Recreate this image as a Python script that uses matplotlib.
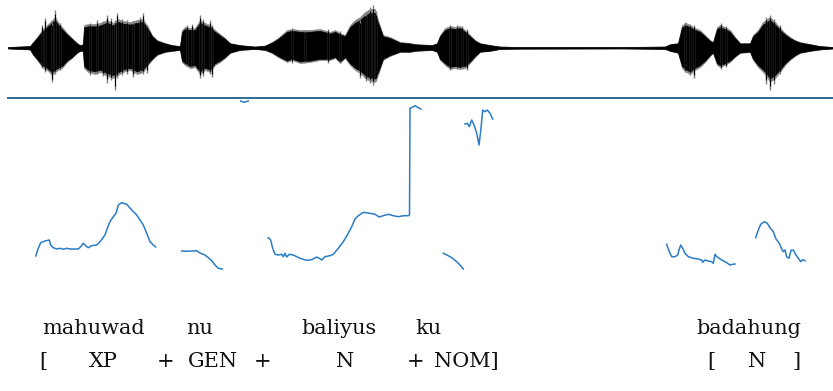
import matplotlib
matplotlib.use("Agg")
import matplotlib.pyplot as plt
import numpy as np

# ---------------- waveform envelope (time in centiseconds, amplitude arbitrary) -------------
wave_t = [8, 30, 33, 37, 42, 45, 47, 50, 52, 55, 58, 62, 67, 72, 77, 80, 83, 84, 88, 95, 100, 107, 113,
          118, 123, 130, 137, 143, 148, 152, 157, 165, 172, 180, 182, 185, 190, 195, 200, 205, 210,
          215, 220, 225, 230, 240, 255, 265, 272, 278, 287, 292, 300, 310, 320, 330, 335, 340, 345,
          350, 355, 360, 365, 370, 375, 378, 383, 390, 400, 410, 415, 432, 437, 440, 445, 450, 455,
          460, 465, 470, 475, 480, 490, 500, 520, 623, 665, 670, 678, 682, 686, 690, 695, 700, 705,
          710, 713, 717, 720, 725, 730, 735, 740, 750, 753, 758, 763, 767, 770, 775, 780, 785, 790,
          795, 800, 810, 820, 833]
wave_top = [0.7, 1.7, 5.7, 10.7, 17.7, 20.7, 22.7, 25.7, 27.7, 30.7, 25.7, 20.7, 14.7, 9.7, 4.7, 2.7,
            3.7, 22.7, 23.7, 23.7, 24.7, 27.7, 24.7, 28.7, 26.7, 25.7, 27.7, 28.7, 20.7, 12.7, 7.7,
            4.7, 2.7, 1.7, 17.7, 20.7, 19.7, 19.7, 27.7, 24.7, 22.7, 17.7, 13.7, 9.7, 4.7, 2.7, 1.2,
            2.2, 5.7, 9.7, 17.7, 18.7, 17.7, 17.7, 18.7, 15.7, 17.7, 14.7, 12.7, 22.7, 27.7, 30.7,
            35.7, 38.7, 38.7, 27.7, 12.7, 10.7, 5.7, 4.7, 3.7, 2.7, 4.7, 12.7, 19.7, 21.7, 20.7, 21.7,
            17.7, 12.7, 7.7, 4.7, 2.7, 1.2, 0.7, 0.7, 1.2, 3.7, 4.7, 22.7, 24.7, 22.7, 19.7, 17.7,
            12.7, 7.7, 5.7, 20.7, 22.7, 20.7, 17.7, 10.7, 4.7, 4.7, 12.7, 17.7, 25.7, 28.7, 30.7,
            25.7, 19.7, 14.7, 10.7, 7.7, 5.7, 3.7, 1.7, 0.7]
wave_bot = [0.8, 1.8, 7.3, 12.3, 19.3, 21.3, 22.3, 25.3, 27.3, 24.3, 22.3, 20.3, 14.3, 10.3, 5.3, 3.3,
            3.3, 20.3, 24.3, 26.3, 24.3, 28.3, 30.3, 27.3, 24.3, 22.3, 26.3, 24.3, 17.3, 12.3, 7.3,
            4.3, 3.3, 2.3, 14.3, 17.3, 20.3, 19.3, 26.3, 22.3, 24.3, 17.3, 14.3, 10.3, 5.3, 2.3, 1.3,
            2.3, 5.3, 9.3, 14.3, 12.3, 15.3, 14.3, 12.3, 12.3, 10.3, 15.3, 10.3, 17.3, 22.3, 25.3,
            30.3, 33.3, 34.3, 27.3, 12.3, 8.3, 4.3, 4.3, 3.3, 2.3, 4.3, 12.3, 17.3, 21.3, 20.3, 21.3,
            20.3, 15.3, 9.3, 4.3, 3.3, 1.3, 1.0, 0.8, 1.3, 3.3, 5.3, 20.3, 24.3, 26.3, 22.3, 19.3,
            14.3, 8.3, 5.3, 17.3, 19.3, 17.3, 14.3, 9.3, 5.3, 4.3, 12.3, 19.3, 24.3, 29.3, 34.3,
            30.3, 24.3, 17.3, 12.3, 8.3, 5.3, 3.3, 1.8, 0.8]

# prominent individual peaks of the waveform (time, upper extent, lower extent)
spike_t = [42, 45, 52, 55, 60, 90, 97, 103, 107, 111, 115, 117, 122, 127, 133, 140, 143, 147, 187,
           192, 200, 203, 210, 212, 292, 305, 328, 340, 360, 366, 370, 373, 376, 450, 457, 462, 467,
           685, 690, 694, 721, 726, 766, 770, 774, 780]
spike_top = [22.7, 29.7, 24.7, 37.7, 24.7, 24.7, 27.7, 26.7, 32.7, 29.7, 27.7, 34.7, 28.7, 27.7,
             26.7, 30.7, 34.7, 22.7, 22.7, 23.7, 32.7, 28.7, 27.7, 22.7, 19.7, 17.7, 18.7, 16.7,
             27.7, 34.7, 40.7, 42.7, 36.7, 22.7, 22.7, 21.7, 18.7, 25.7, 23.7, 22.7, 24.7, 21.7,
             30.7, 32.7, 28.7, 22.7]
spike_bot = [20.3, 24.3, 34.3, 26.3, 22.3, 27.3, 26.3, 28.3, 35.3, 32.3, 42.3, 30.3, 27.3, 26.3,
             29.3, 25.3, 26.3, 25.3, 18.3, 20.3, 30.3, 28.3, 26.3, 29.3, 15.3, 15.3, 15.3, 14.3,
             30.3, 33.3, 35.3, 37.3, 33.3, 22.3, 21.3, 20.3, 22.3, 24.3, 27.3, 30.3, 21.3, 19.3,
             36.3, 42.3, 36.3, 26.3]

# ---------------- pitch track segments (time in centiseconds, pitch arbitrary units) ----------
pitch_segments = [
    ([35.7, 38.3, 40.7, 45, 49.3, 50.7, 53.3, 56.7, 60, 63.3, 66.7, 70, 73.3, 78.3, 80.7, 83.3, 86,
      88.3, 91.7, 96.7, 100, 105, 107.3, 110, 113.3, 116, 118.3, 121.7, 126.7, 131.7, 136.7, 140,
      143.3, 146.7, 150, 153.3, 155.7],
     [44, 51.7, 57.3, 59, 60, 55, 52.3, 51, 51.7, 50.7, 51.7, 51, 51, 51, 53.3, 56.7, 54, 52.3, 54.3,
      55, 58.3, 65, 71.7, 78.3, 83.3, 86.7, 95, 97.3, 95.7, 90, 85, 80, 75, 66.7, 58.3, 55, 53]),
    ([181.7, 186.7, 191.7, 196.7, 200, 205, 208.3, 211.7, 215, 218.3, 222.3],
     [49, 48.7, 49, 49.3, 47, 45, 42.3, 39.3, 35, 31.7, 31]),
    ([240.7, 244, 248.3],
     [199, 197.7, 199]),
    ([268.3, 270.7, 272.7, 275, 278.3, 281.7, 283.3, 285, 286.7, 289.3, 293.3, 300, 306.7, 311.7,
      316.7, 319.3, 321.7, 325, 330, 333.3, 338.3, 343.3, 348.3, 351.7, 355, 358.3, 363.3, 370, 375,
      379.3, 383.3, 388.3, 393.3, 398.3, 403.3, 408.3, 409.5, 410, 411.7, 415, 418.3, 421],
     [62.3, 60, 51.7, 45.7, 45, 45.7, 43.3, 46.7, 43, 45.7, 45, 41.7, 39.7, 40.3, 43, 41.7, 40, 43.3,
      44.3, 45.7, 51.7, 58.3, 66.7, 73.3, 81, 84.3, 87.7, 86.7, 85.7, 83, 84.3, 85.7, 84.3, 83.3,
      84.3, 84.3, 85, 191.7, 192.3, 194.3, 192.3, 191]),
    ([443.3, 448.3, 451.7, 456.7, 460, 463.3],
     [46.7, 44.3, 42.3, 38.3, 35, 31]),
    ([465, 467.3, 469.3, 471.7, 474, 476.7, 479, 481, 482.7, 485, 487.3, 490, 492.7],
     [176, 176.7, 173.3, 180, 175, 166.7, 155, 171.7, 190, 188.3, 190, 186.7, 181]),
    ([666.7, 669.3, 671.7, 675, 677.7, 679.3, 680.7, 682.7, 685, 688.3, 693.3, 698.3, 701.7, 702.7,
      705, 708.3, 711.7, 713.3, 715, 716.7, 721.7, 726.7, 730, 732.7, 735],
     [55.7, 48.3, 43.3, 43.3, 45, 51, 55, 51.7, 46.7, 43.3, 41.7, 41, 40, 37.7, 40, 39, 38.3, 36.7,
      45.7, 43.3, 40, 37.3, 35, 35.7, 36]),
    ([755.7, 758.3, 760.7, 764.3, 767.3, 770, 773.3, 776, 779.3, 781.7, 783.3, 785, 786.7, 789, 791,
      793.3, 796, 798.3, 800.7, 802.7, 805],
     [62.3, 70, 75.7, 78.3, 76.7, 72.3, 68.3, 61, 56.7, 51, 48.3, 50, 43.3, 41.7, 49.7, 50, 45, 41.7,
      38.3, 40.3, 39.3]),
]

# ---------------- annotation text (x positions in centiseconds) ----------------
words = ["mahuwad", "nu", "baliyus", "ku", "badahung"]
words_x = [94, 200, 339, 428, 749]
gloss = ["[", "XP", "+", "GEN", "+", "N", "+", "NOM]", "[", "N", "]"]
gloss_x = [43, 103, 166, 213, 263, 345, 416, 466, 711, 757, 796]

W, H = 833, 391
fig = plt.figure(figsize=(W / 100, H / 100), dpi=100)
x0 = 8

# waveform axes
ax_w = fig.add_axes([x0 / W, 1 - 96 / H, 1 - x0 / W, 96 / H])
t = np.array(wave_t, float)
top = np.array(wave_top, float)
bot = -np.array(wave_bot, float)
ax_w.vlines(spike_t, -np.array(spike_bot), spike_top, color="#7d7d7d", lw=1.0)
ax_w.vlines(spike_t, -np.array(spike_bot) * 0.9, np.array(spike_top) * 0.9, color="black", lw=0.8)
ax_w.fill_between(t, bot, top, color="#8a8a8a", lw=0.5, edgecolor="#8a8a8a")
ax_w.fill_between(t, bot * 0.9, top * 0.9, color="black", lw=0.5, edgecolor="black")
ax_w.set_xlim(x0, W)
ax_w.set_ylim(-48.3, 47.7)
ax_w.axis("off")

# pitch axes
sep_y = 98.3
ax_p = fig.add_axes([x0 / W, 1 - 300 / H, 1 - x0 / W, (300 - sep_y) / H])
for xs, ps in pitch_segments:
    ax_p.plot(xs, ps, color="#2a7cc6", lw=1.1, solid_joinstyle="round")
ax_p.set_xlim(x0, W)
ax_p.set_ylim(0, 300 - sep_y)
for s in ["left", "right", "bottom"]:
    ax_p.spines[s].set_visible(False)
ax_p.spines["top"].set_color("#2d6a8f")
ax_p.spines["top"].set_linewidth(1.4)
ax_p.set_xticks([])
ax_p.set_yticks([])
ax_p.patch.set_alpha(0)

# text axes
ax_t = fig.add_axes([x0 / W, 0, 1 - x0 / W, 1 - 300 / H])
ax_t.set_xlim(x0, W)
ax_t.set_ylim(391, 300)
ax_t.axis("off")
for w, xx in zip(words, words_x):
    ax_t.text(xx, 329, w, ha="center", va="center", fontsize=15, family="DejaVu Serif", color="#111")
for g, xx in zip(gloss, gloss_x):
    ax_t.text(xx, 362, g, ha="center", va="center", fontsize=15, family="DejaVu Serif", color="#111")

fig.savefig("out.png", dpi=100)
